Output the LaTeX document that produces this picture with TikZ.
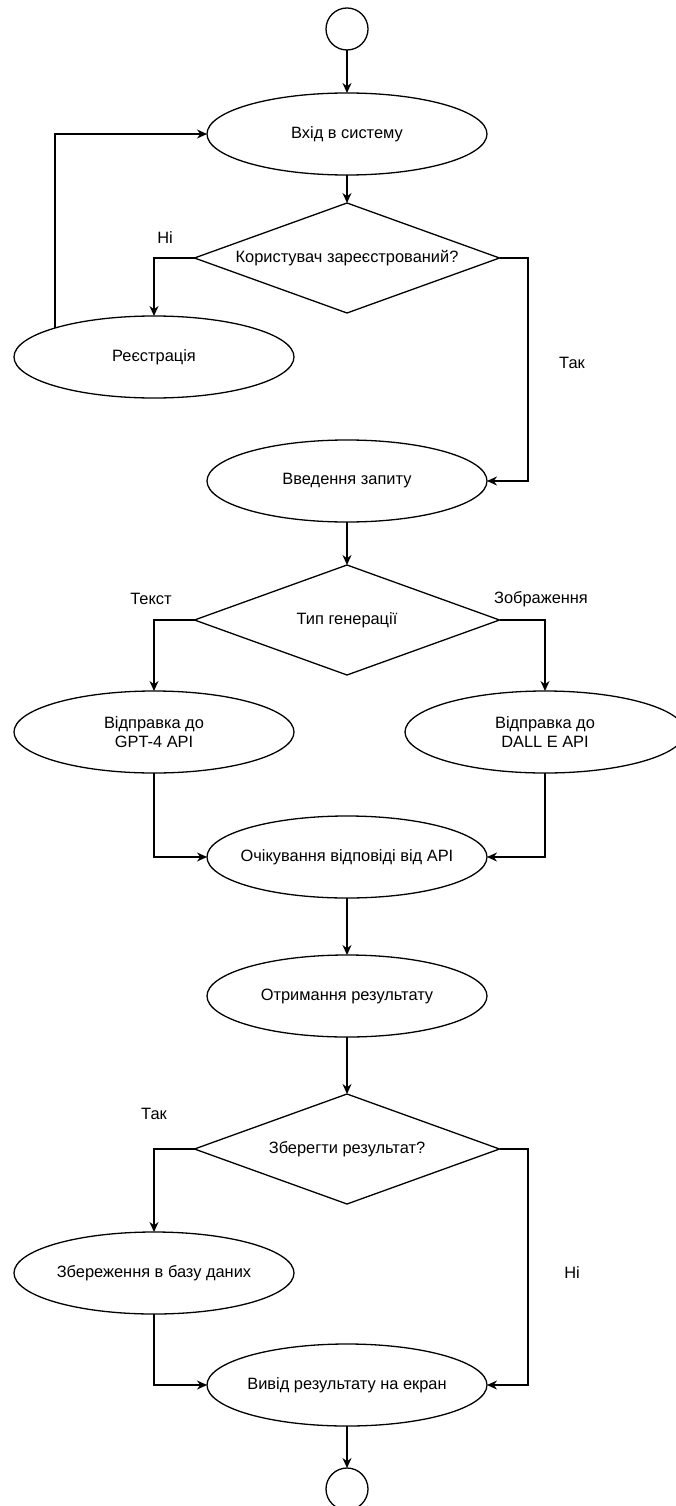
\documentclass[tikz,border=0pt]{standalone}
\usepackage{fontspec}
\setmainfont{Liberation Sans}
\usetikzlibrary{arrows.meta,positioning,shapes.geometric}

\begin{document}
\begin{tikzpicture}[
  x=1pt, y=-1pt,
  font=\fontsize{16.4}{19.5}\selectfont,
  node distance=40pt,
  krok/.style={draw, ellipse, line width=1.3pt, minimum width=280pt,
               minimum height=82pt, inner xsep=-50pt, inner ysep=-10pt,
               outer sep=0pt, align=center},
  umova/.style={draw, diamond, aspect=2.77, line width=1.3pt, minimum width=305pt,
                minimum height=110pt, inner sep=0pt, outer sep=0pt, align=center},
  kolo/.style={draw, circle, line width=1.3pt, minimum size=42pt, inner sep=0pt, outer sep=0pt},
  pidpys/.style={inner sep=0pt},
  arr/.style={-{Stealth[length=10pt, width=9pt]}, line width=1.3pt}
]
\useasboundingbox (0,0) rectangle (675,1506);
\node[kolo] (pochatok) at (347,29) {};
\node[krok, below=43pt of pochatok] (vhid) {Вхід в систему};
\node[umova, below=28pt of vhid] (zareyestr) {Користувач зареєстрований?};
\node[krok, below=127pt of zareyestr] (zapyt) {Введення запиту};
\node[umova, below=43pt of zapyt] (typ) {Тип генерації};
\node[krok, below=141pt of typ] (ochik) {Очікування відповіді від API};
\node[krok, below=57pt of ochik] (otrym) {Отримання результату};
\node[umova, below=57pt of otrym] (zberegty) {Зберегти результат?};
\node[krok, below=140pt of zberegty] (vyvid) {Вивід результату на екран};
\node[kolo, below=42pt of vyvid] (kinec) {};

\node[krok] (reyestr) at (154,357) {Реєстрація};
\node[krok] (gpt) at (154,732) {Відправка до\\GPT-4 API};
\node[krok] (dall) at (545,732) {Відправка до\\DALL E API};
\node[krok] (zberezh) at (154,1273) {Збереження в базу даних};

\node[pidpys] (ni1) at (165,238) {Ні};
\node[pidpys] (tak1) at (572,363) {Так};
\node[pidpys] (tekst) at (151,599) {Текст};
\node[pidpys] (zobr) at (541,599) {Зображення};
\node[pidpys] (tak2) at (154,1114) {Так};
\node[pidpys] (ni2) at (572,1273) {Ні};

\coordinate (prava) at (528,0);

\draw[arr] (pochatok) -- (vhid);
\draw[arr] (vhid) -- (zareyestr);
\draw[arr] (zareyestr.west) -| (reyestr.north);
\draw[arr] (reyestr.north west) |- (vhid.west);
\draw[arr] (zareyestr.east) -| (prava |- zapyt.east) -- (zapyt.east);
\draw[arr] (zapyt) -- (typ);
\draw[arr] (typ.west) -| (gpt.north);
\draw[arr] (typ.east) -| (dall.north);
\draw[arr] (gpt.south) |- (ochik.west);
\draw[arr] (dall.south) |- (ochik.east);
\draw[arr] (ochik) -- (otrym);
\draw[arr] (otrym) -- (zberegty);
\draw[arr] (zberegty.west) -| (zberezh.north);
\draw[arr] (zberegty.east) -| (prava |- vyvid.east) -- (vyvid.east);
\draw[arr] (zberezh.south) |- (vyvid.west);
\draw[arr] (vyvid) -- (kinec);
\end{tikzpicture}
\end{document}
